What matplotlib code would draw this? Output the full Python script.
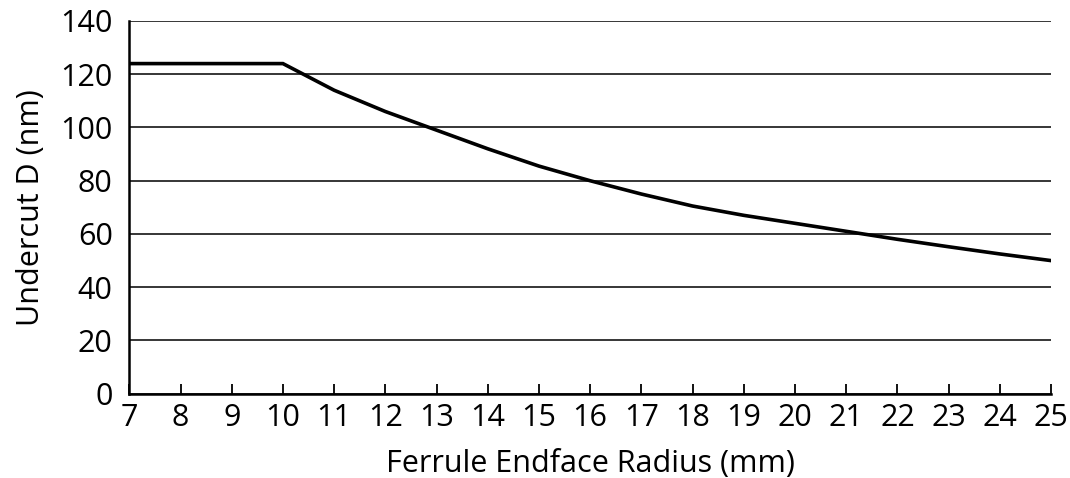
import matplotlib.pyplot as plt

# Undercut vs ferrule endface radius
radius = [7, 8, 9, 10, 11, 12, 13, 14, 15, 16, 17, 18, 19, 20, 21, 22, 23, 24, 25]
undercut = [124, 124, 124, 124, 114, 106, 99, 92, 85.5, 80, 75, 70.5, 67, 64, 61, 58, 55.2, 52.5, 50]

plt.rcParams['font.family'] = ['Open Sans', 'DejaVu Sans']

fig = plt.figure(figsize=(10.7, 4.78), dpi=100)
ax = fig.add_axes([129.3 / 1070, 1 - 393.7 / 478, (1051 - 129.3) / 1070, (393.7 - 21) / 478])

ax.plot(radius, undercut, color='black', lw=2.6, solid_joinstyle='miter', zorder=3)

ax.set_xlim(7, 25)
ax.set_ylim(0, 140)
ax.set_xticks(range(7, 26))
ax.set_yticks(range(0, 141, 20))
ax.yaxis.grid(True, color='black', lw=1.1)
ax.set_axisbelow(True)

for s in ['top', 'right']:
    ax.spines[s].set_visible(False)
for s in ['left', 'bottom']:
    ax.spines[s].set_linewidth(1.8)

ax.tick_params(axis='x', direction='in', length=7, width=1.3, pad=7, labelsize=22)
ax.tick_params(axis='y', length=0, pad=12, labelsize=22)

ax.set_xlabel('Ferrule Endface Radius (mm)', fontsize=22, labelpad=11.5)
ax.set_ylabel('Undercut D (nm)', fontsize=22, labelpad=10)

fig.savefig('out.png', dpi=100)
